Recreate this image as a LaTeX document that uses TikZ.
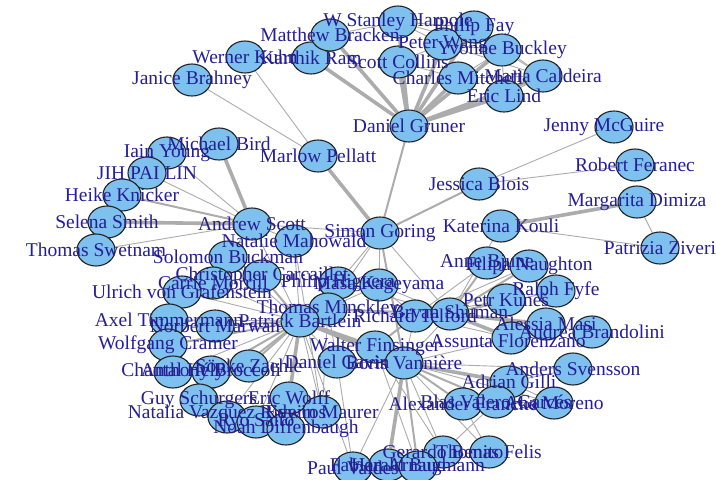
\documentclass[tikz,border=0pt]{standalone}
\usepackage{fontspec}
\setmainfont{Liberation Serif}
\usetikzlibrary{shapes.geometric}
\definecolor{vfill}{RGB}{126,192,238}
\definecolor{vline}{RGB}{35,35,35}
\definecolor{egray}{RGB}{172,172,172}
\definecolor{ltext}{RGB}{38,30,150}
\pgfdeclarelayer{bg}
\pgfsetlayers{bg,main}
\begin{document}
\begin{tikzpicture}[x=1pt,y=-1pt,
  v/.style={ellipse,draw=vline,line width=1.1pt,fill=vfill,minimum width=38pt,minimum height=32pt,inner sep=0pt},
  lab/.style={text=ltext,font=\fontsize{19.5}{20}\selectfont,inner sep=0pt},
  ea/.style={draw=egray,line width=0.9pt},
  eb/.style={draw=egray,line width=2pt},
  ec/.style={draw=egray,line width=3.6pt}]
\useasboundingbox (0,0) rectangle (716,480);
% vertices
\node[v] (jb) at (192,80) {};
\node[v] (wk) at (245,57) {};
\node[v] (kr) at (311,58) {};
\node[v] (mb) at (330,35) {};
\node[v] (ws) at (398,22) {};
\node[v] (sc) at (398,62) {};
\node[v] (pw) at (443,44) {};
\node[v] (pf) at (474,27) {};
\node[v] (yb) at (502,50) {};
\node[v] (cm) at (458,78) {};
\node[v] (mc) at (543,76) {};
\node[v] (el) at (504,96) {};
\node[v] (dg) at (409,126) {};
\node[v] (jm) at (614,127) {};
\node[v] (mbd) at (219,144) {};
\node[v] (iy) at (167,153) {};
\node[v] (jpl) at (147,173) {};
\node[v] (hk) at (122,195) {};
\node[v] (ss) at (107,222) {};
\node[v] (ts) at (96,250) {};
\node[v] (mp) at (318,156) {};
\node[v] (as) at (252,224) {};
\node[v] (nm) at (294,241) {};
\node[v] (sb) at (228,257) {};
\node[v] (sg) at (380,233) {};
\node[v] (jbl) at (479,184) {};
\node[v] (rf) at (635,165) {};
\node[v] (md) at (637,202) {};
\node[v] (kk) at (501,226) {};
\node[v] (pz) at (660,248) {};
\node[v] (ab) at (487,263) {};
\node[v] (fn) at (529,266) {};
\node[v] (rfy) at (556,291) {};
\node[v] (pk) at (506,300) {};
\node[v] (am) at (546,324) {};
\node[v] (abr) at (592,332) {};
\node[v] (af) at (511,338) {};
\node[v] (rt) at (415,316) {};
\node[v] (bs) at (450,314) {};
\node[v] (cc) at (262,276) {};
\node[v] (cmo) at (213,283) {};
\node[v] (uvg) at (182,292) {};
\node[v] (ph) at (338,283) {};
\node[v] (mk) at (379,285) {};
\node[v] (tm) at (328,309) {};
\node[v] (pb) at (300,321) {};
\node[v] (at) at (169,320) {};
\node[v] (nmw) at (215,326) {};
\node[v] (wc) at (168,345) {};
\node[v] (wf) at (375,347) {};
\node[v] (dga) at (337,362) {};
\node[v] (bv) at (404,363) {};
\node[v] (ch) at (173,372) {};
\node[v] (abc) at (211,372) {};
\node[v] (sz) at (249,366) {};
\node[v] (gs) at (199,400) {};
\node[v] (ew) at (289,398) {};
\node[v] (nvr) at (227,417) {};
\node[v] (ryo) at (256,422) {};
\node[v] (em) at (322,412) {};
\node[v] (nd) at (286,429) {};
\node[v] (ag) at (509,382) {};
\node[v] (asv) at (573,369) {};
\node[v] (afr) at (463,404) {};
\node[v] (bvg) at (496,402) {};
\node[v] (amo) at (554,403) {};
\node[v] (gb) at (443,452) {};
\node[v] (tf) at (489,452) {};
\node[v] (pv) at (353,468) {};
\node[v] (fa) at (388,465) {};
\node[v] (hb) at (418,467) {};
% edges
\begin{pgfonlayer}{bg}
\fill[white] (0,0) rectangle (716,480);
\foreach \a/\b in {dg/ws,dg/pf,dg/pw,dg/yb,dg/mb,dg/sc,dg/cm,dg/mc,dg/el,dg/kr,
  mp/sg,kk/md,as/mbd,as/ss,pb/ew,pb/tm,pb/wf,pb/bv,bv/wf,bv/ag,bv/fa,bs/am,bs/af,bs/rt}
  \draw[ec] (\a) -- (\b);
\foreach \a/\b in {dg/sg,jbl/sg,as/hk,sg/bv,pb/nmw,pb/wc,pb/abc,pb/sz,pb/cc,bs/pk,bs/fn,rt/wf,bv/afr,bv/bvg,pb/gs,bs/ab,tm/bs,bv/hb}
  \draw[eb] (\a) -- (\b);
\foreach \a/\b in {ws/pf,ws/pw,ws/yb,pw/yb,pf/yb,pw/mc,yb/mc,cm/mc,sc/pw,mb/ws,pf/mc,yb/el,el/mc,cm/yb,sc/cm,pw/cm,
  wk/mp,jb/mp,jbl/jm,jbl/rf,kk/pz,md/pz,kk/bs,
  as/iy,as/jpl,as/ts,as/nm,as/sb,as/sg,as/pb,nm/sg,nm/pb,sb/pb,
  sg/mk,sg/ph,sg/bs,sg/tm,
  pb/cmo,pb/uvg,pb/at,pb/ch,pb/nvr,pb/ryo,pb/nd,pb/em,pb/ph,pb/mk,pb/dga,pb/pv,nm/em,
  tm/dga,tm/rt,ph/bs,mk/bs,mk/rt,
  bs/rfy,bs/abr,rt/ab,rt/fn,rt/pk,rt/af,bs/bv,rt/bv,af/bv,
  bv/dga,bv/asv,bv/amo,bv/gb,bv/tf,bv/pv,ag/asv,afr/bvg,bvg/amo,afr/tf,bvg/gb,ag/amo,wf/gb,wf/hb,
  gs/nvr,nvr/ryo,ryo/nd,ew/em,ew/nd,ch/abc,abc/sz,at/wc,cc/cmo,cmo/uvg,tm/em,dga/pv}
  \draw[ea] (\a) -- (\b);
\end{pgfonlayer}
% labels
\node[lab] (jbL) at (jb) {Janice Brahney};
\node[lab] (wkL) at (wk) {Werner Kuhn};
\node[lab] (krL) at (kr) {Karthik Ram};
\node[lab] (mbL) at (mb) {Matthew Bracken};
\node[lab] (wsL) at (ws) {W Stanley Harpole};
\node[lab] (scL) at (sc) {Scott Collins};
\node[lab] (pwL) at (pw) {Peter Wang};
\node[lab] (pfL) at (pf) {Philip Fay};
\node[lab] (ybL) at (yb) {Yvonne Buckley};
\node[lab] (cmL) at (cm) {Charles Mitchell};
\node[lab] (mcL) at (mc) {Maria Caldeira};
\node[lab] (elL) at (el) {Eric Lind};
\node[lab] (dgL) at (dg) {Daniel Gruner};
\node[lab] (jmL) at (604,127) {Jenny McGuire};
\node[lab] (mbdL) at (mbd) {Michael Bird};
\node[lab] (iyL) at (iy) {Iain Young};
\node[lab] (jplL) at (jpl) {JIH PAI LIN};
\node[lab] (hkL) at (hk) {Heike Knicker};
\node[lab] (ssL) at (ss) {Selena Smith};
\node[lab] (tsL) at (ts) {Thomas Swetnam};
\node[lab] (mpL) at (mp) {Marlow Pellatt};
\node[lab] (asL) at (as) {Andrew Scott};
\node[lab] (nmL) at (nm) {Natalie Mahowald};
\node[lab] (sbL) at (sb) {Solomon Buckman};
\node[lab] (sgL) at (sg) {Simon Goring};
\node[lab] (jblL) at (jbl) {Jessica Blois};
\node[lab] (rfL) at (rf) {Robert Feranec};
\node[lab] (mdL) at (md) {Margarita Dimiza};
\node[lab] (kkL) at (kk) {Katerina Kouli};
\node[lab] (pzL) at (pz) {Patrizia Ziveri};
\node[lab] (abL) at (ab) {Anne Bjune};
\node[lab] (fnL) at (fn) {Filipa Naughton};
\node[lab] (rfyL) at (rfy) {Ralph Fyfe};
\node[lab] (pkL) at (pk) {Petr Kuneš};
\node[lab] (amL) at (am) {Alessia Masi};
\node[lab] (abrL) at (abr) {Andrea Brandolini};
\node[lab] (afL) at (508,341) {Assunta Florenzano};
\node[lab] (rtL) at (rt) {Richard Telford};
\node[lab] (bsL) at (bs) {Bryan Shuman};
\node[lab] (ccL) at (cc) {Christopher Carcaillet};
\node[lab] (cmoL) at (cmo) {Carrie Morrill};
\node[lab] (uvgL) at (uvg) {Ulrich von Grafenstein};
\node[lab] (phL) at (ph) {Philip Higuera};
\node[lab] (mkL) at (mk) {Masa Kageyama};
\node[lab] (tmL) at (tm) {Thomas Minckley};
\node[lab] (pbL) at (pb) {Patrick Bartlein};
\node[lab] (atL) at (at) {Axel Timmermann};
\node[lab] (nmwL) at (nmw) {Norbert Marwan};
\node[lab] (wcL) at (wc) {Wolfgang Cramer};
\node[lab] (wfL) at (wf) {Walter Finsinger};
\node[lab] (dgaL) at (dga) {Daniel Gavin};
\node[lab] (bvL) at (bv) {Boris Vannière};
\node[lab] (chL) at (ch) {Chantal Hély};
\node[lab] (abcL) at (abc) {Anthony Broccoli};
\node[lab] (szL) at (sz) {Sönke Zaehle};
\node[lab] (gsL) at (gs) {Guy Schurgers};
\node[lab] (ewL) at (ew) {Eric Wolff};
\node[lab] (nvrL) at (227,414) {Natalia Vazquez Riveiros};
\node[lab] (ryoL) at (ryo) {Ryo Saito};
\node[lab] (emL) at (em) {Edwin Maurer};
\node[lab] (ndL) at (nd) {Noah Diffenbaugh};
\node[lab] (agL) at (ag) {Adrian Gilli};
\node[lab] (asvL) at (asv) {Anders Svensson};
\node[lab] (afrL) at (afr) {Alexander Francke};
\node[lab] (bvgL) at (bvg) {Blas Valero-Garcés};
\node[lab] (amoL) at (amo) {Ana Moreno};
\node[lab] (gbL) at (gb) {Gerardo Benito};
\node[lab] (tfL) at (tf) {Thomas Felis};
\node[lab] (pvL) at (pv) {Paul Valdes};
\node[lab] (faL) at (fa) {Fabien Arnaud};
\node[lab] (hbL) at (hb) {Harald Bugmann};
\end{tikzpicture}
\end{document}
